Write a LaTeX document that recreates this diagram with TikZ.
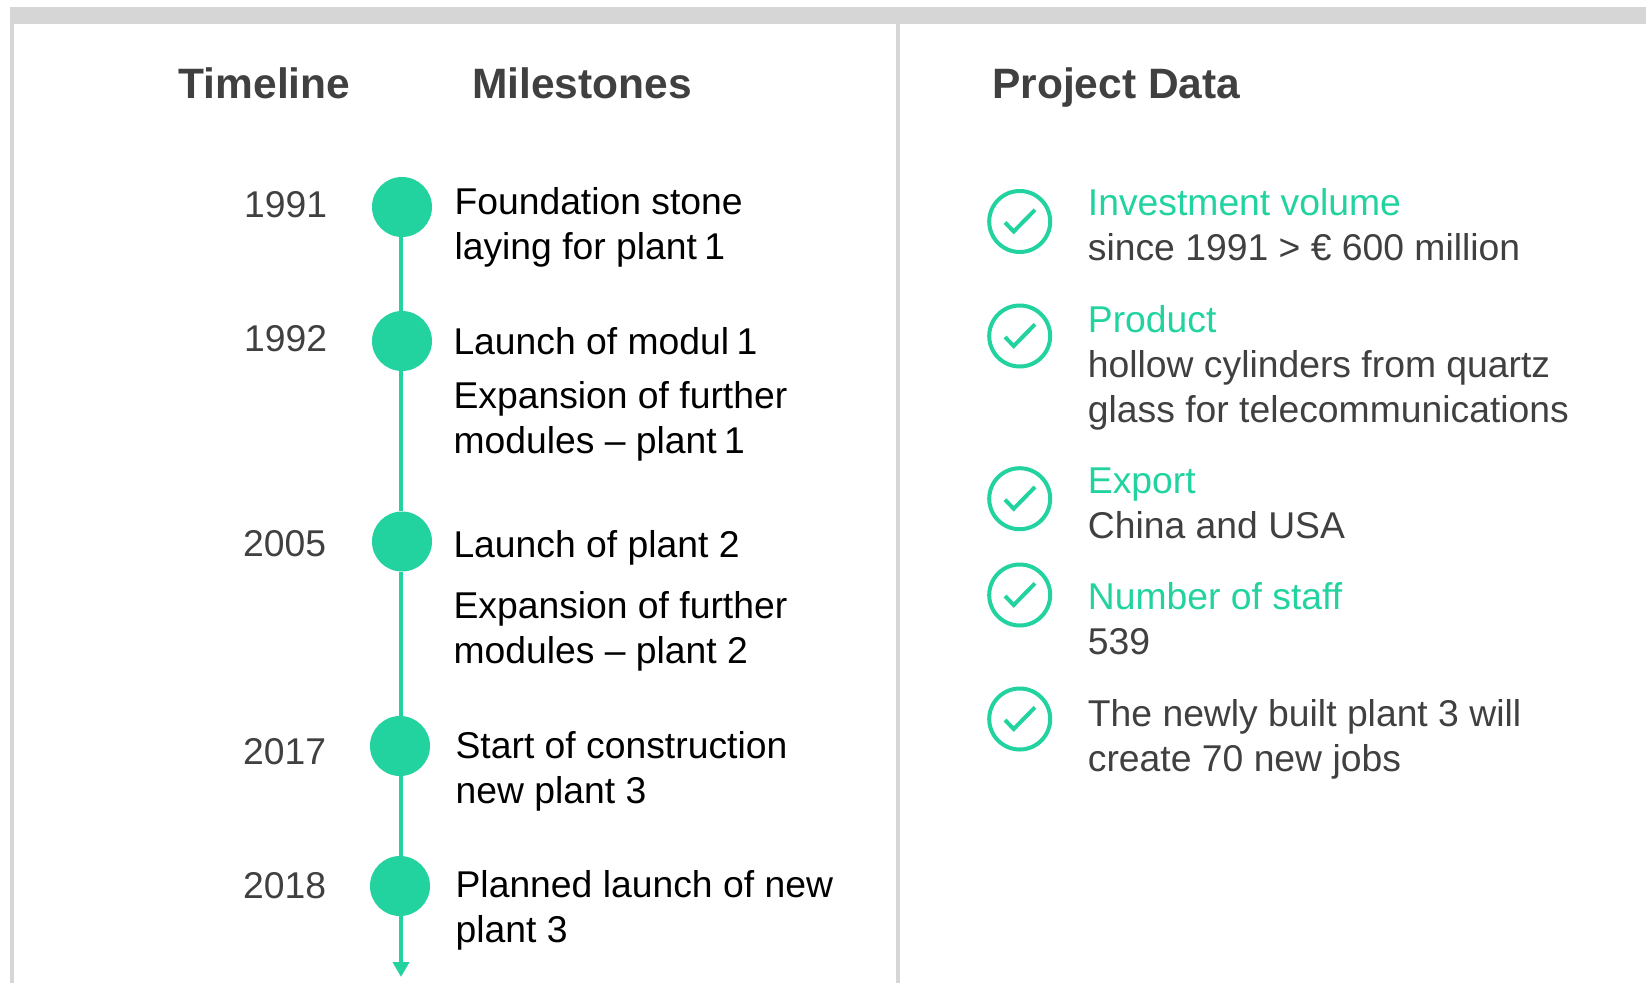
\documentclass[tikz,border=0pt]{standalone}
\usepackage{fontspec}
\setmainfont{Liberation Sans}
\usetikzlibrary{arrows.meta}
\definecolor{mint}{HTML}{22D3A0}
\definecolor{dark}{HTML}{404040}
\definecolor{framegray}{HTML}{D6D6D6}
\tikzset{
  head/.style={anchor=base west,inner sep=0pt,text=dark,font=\fontsize{42.5}{48}\selectfont\bfseries},
  year/.style={anchor=base west,inner sep=0pt,text=dark,font=\fontsize{37.3}{45}\selectfont},
  mile/.style={anchor=base west,inner sep=0pt,text=black,align=left,font=\fontsize{37.3}{45}\selectfont},
  info/.style={anchor=base west,inner sep=0pt,text=dark,align=left,font=\fontsize{37.3}{45}\selectfont},
  dot/.style={circle,fill=mint,minimum size=60pt,inner sep=0pt},
  tick/.style={circle,draw=mint,line width=4pt,minimum size=61pt,inner sep=0pt},
  tl/.style={draw=mint,line width=4pt},
  bar/.style={fill=framegray,draw=none},
  ckmark/.style={draw=mint,line width=4pt}
}
\begin{document}
\begin{tikzpicture}[x=1pt,y=-1pt]
\useasboundingbox (0,0) rectangle (1646,983);
\fill[bar] (10,7) rectangle (1646,24);
\fill[bar] (10,24) rectangle (13.5,983);
\fill[bar] (896,24) rectangle (900,983);
\node[head] (hT) at (178.5,98.5) {Timeline};
\node[head] (hM) at (472,98.5) {Milestones};
\node[head] (hP) at (992,98.5) {Project Data};
\node[dot] (c1) at (402,207) {};
\node[dot] (c2) at (402,341) {};
\node[dot] (c3) at (402,541.5) {};
\node[dot] (c4) at (400,746) {};
\node[dot] (c5) at (400,886) {};
\coordinate (lx) at (401,0);
\coordinate (tipend) at (401,977);
\draw[tl] (lx |- c1.south) -- (lx |- c2.north);
\draw[tl] (lx |- c2.south) -- (lx |- c3.north);
\draw[tl] (lx |- c3.south) -- (lx |- c4.north);
\draw[tl] (lx |- c4.south) -- (lx |- c5.north);
\draw[tl,-{Triangle[length=15pt,width=16pt]}] (lx |- c5.south) -- (tipend);
\node[year] (y1) at (244,217) {1991};
\node[year] (y2) at (244,351) {1992};
\node[year] (y3) at (243,556.5) {2005};
\node[year] (y4) at (243,764) {2017};
\node[year] (y5) at (243,898) {2018};
\node[mile] (m1) at (454.3,259) {Foundation stone\\laying for plant~\kern-3pt 1};
\node[mile] (m2) at (453.3,354.5) {Launch of modul~\kern-3pt 1};
\node[mile] (m3) at (453.3,453) {Expansion of further\\modules – plant~\kern-3pt 1};
\node[mile] (m4) at (453.3,557.5) {Launch of plant 2};
\node[mile] (m5) at (453.3,663) {Expansion of further\\modules – plant 2};
\node[mile] (m6) at (455.4,803) {Start of construction\\new plant 3};
\node[mile] (m7) at (455.4,942) {Planned launch of new\\plant 3};
\foreach \n/\yy in {t1/221.5,t2/336,t3/498.7,t4/595,t5/719}{
  \node[tick] (\n) at (1019.7,\yy) {};
  \draw[ckmark] ([shift={(-14.7,1)}]\n.center) -- ([shift={(-6,10)}]\n.center) -- ([shift={(15.3,-11.7)}]\n.center);
}
\node[info] (i1) at (1087.7,260.5) {\textcolor{mint}{Investment volume}\\since 1991 > € 600 million};
\node[info] (i2) at (1087.7,422) {\textcolor{mint}{Product}\\hollow cylinders from quartz\\glass for telecommunications};
\node[info] (i3) at (1087.7,538.5) {\textcolor{mint}{Export}\\China and USA};
\node[info] (i4) at (1087.7,654) {\textcolor{mint}{Number of staff}\\539};
\node[info] (i5) at (1087.7,771) {The newly built plant 3 will\\create 70 new jobs};
\end{tikzpicture}
\end{document}
